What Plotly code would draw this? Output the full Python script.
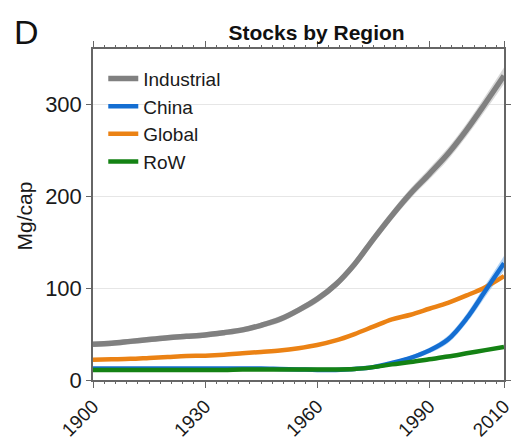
import plotly.graph_objects as go

years = [1900, 1905, 1910, 1915, 1920, 1925, 1930, 1935, 1940, 1945, 1950, 1955,
         1960, 1965, 1970, 1975, 1980, 1985, 1990, 1995, 2000, 2005, 2010]

industrial = [39, 40, 42, 44, 46, 47.5, 49, 51.5, 54.5, 59.5, 66, 76,
              88, 104, 126, 153, 179, 203, 224, 246, 272, 301, 331]
china = [12.5, 12.5, 12.5, 12.5, 12.5, 12.5, 12.5, 12.5, 12.5, 12.5, 12, 11.5,
         11, 11, 12, 14, 18.5, 24, 32, 44, 67, 97, 127]
global_ = [22, 22.5, 23, 24, 25, 26, 26.5, 27.5, 29, 30.5, 32, 34.5,
           38, 43, 50, 58, 66, 71, 77.5, 84, 92, 101, 113]
row = [11, 11, 11, 11, 11, 11, 11, 11, 11.5, 11.5, 11.5, 11.5,
       11.5, 11.5, 12, 14, 17, 19.5, 22.5, 25.5, 29, 32.5, 36]

# half-widths of the uncertainty bands
industrial_err = [3, 3, 3, 3, 3, 3, 3, 3, 3, 3, 3.5, 3.5,
                  4, 4, 4.5, 5, 5, 5.5, 6, 6.5, 7, 8, 9]
china_err = [1, 1, 1, 1, 1, 1, 1, 1, 1, 1, 1, 1,
             1, 1, 1, 1.5, 2, 2.5, 3, 4, 5, 6.5, 8]
global_err = [1.5] * 23
row_err = [1.2] * 23

series = [
    ("Industrial", industrial, industrial_err, "rgb(128,128,128)", "rgba(200,200,200,0.7)", 5.5, 1),
    ("Global", global_, global_err, "rgb(235,130,20)", "rgba(245,190,130,0.6)", 4.5, 3),
    ("China", china, china_err, "rgb(20,110,210)", "rgba(130,185,240,0.6)", 4.5, 2),
    ("RoW", row, row_err, "rgb(20,130,20)", "rgba(120,190,120,0.5)", 4.5, 4),
]

fig = go.Figure()

for name, vals, err, col, band, w, rank in series:
    up = [v + e for v, e in zip(vals, err)]
    lo = [v - e for v, e in zip(vals, err)]
    fig.add_trace(go.Scatter(x=years, y=up, mode="lines", line=dict(width=0, shape="spline"),
                             showlegend=False, hoverinfo="skip"))
    fig.add_trace(go.Scatter(x=years, y=lo, mode="lines", line=dict(width=0, shape="spline"),
                             fill="tonexty", fillcolor=band, showlegend=False, hoverinfo="skip"))

for name, vals, err, col, band, w, rank in series:
    fig.add_trace(go.Scatter(x=years, y=vals, mode="lines", name=name,
                             line=dict(color=col, width=w, shape="spline"),
                             legendrank=rank))

axis_col = "#666666"
fig.update_layout(
    width=517, height=442,
    margin=dict(l=93, r=13, t=49, b=62, autoexpand=False),
    paper_bgcolor="white", plot_bgcolor="white",
    font=dict(family="Liberation Sans, Arial, sans-serif", size=22, color="#1a1a1a"),
    title=dict(text="<b>Stocks by Region</b>", x=0.544, xref="paper", xanchor="center",
               y=1 - 33 / 442, yref="container", yanchor="middle",
               font=dict(size=21, color="#111111"), automargin=False),
    showlegend=True,
    legend=dict(x=0.025, y=0.968, xanchor="left", yanchor="top", traceorder="normal",
                bgcolor="rgba(0,0,0,0)", font=dict(size=19, color="#1a1a1a"),
                tracegroupgap=0, itemwidth=30),
    xaxis=dict(range=[1900, 2010], tickmode="array", tickvals=[1900, 1930, 1960, 1990, 2010],
               ticktext=["1900", "1930", "1960", "1990", "2010"], tickangle=-45, automargin=False,
               tickfont=dict(size=19), ticklabelstandoff=0,
               showgrid=False, zeroline=False, showline=True, linecolor=axis_col, linewidth=1.5,
               ticks="outside", ticklen=6, tickwidth=1.2, tickcolor=axis_col, mirror="allticks",
               minor=dict(tickmode="linear", tick0=1900, dtick=3, ticks="outside", ticklen=2.5,
                          tickcolor=axis_col, tickwidth=1, showgrid=False)),
    yaxis=dict(range=[0, 360], tickmode="array", tickvals=[0, 100, 200, 300], automargin=False,
               showgrid=True, gridcolor="#e6e6e6", gridwidth=1, zeroline=False,
               showline=True, linecolor=axis_col, linewidth=1.5,
               ticks="outside", ticklen=5, tickwidth=1.2, tickcolor=axis_col, mirror="allticks"),
    annotations=[
        dict(text="Mg/cap", xref="paper", yref="paper", x=(24 - 93) / 411, y=(380 - 216.5) / 331,
             xanchor="center", yanchor="middle", textangle=-90, showarrow=False,
             font=dict(size=21, color="#1a1a1a")),
        dict(text="D", xref="paper", yref="paper", x=(12 - 93) / 411, y=(380 - 53) / 331,
             xanchor="left", yanchor="bottom", showarrow=False,
             font=dict(size=34, color="#111111")),
    ],
)

fig.write_html("out.html")
